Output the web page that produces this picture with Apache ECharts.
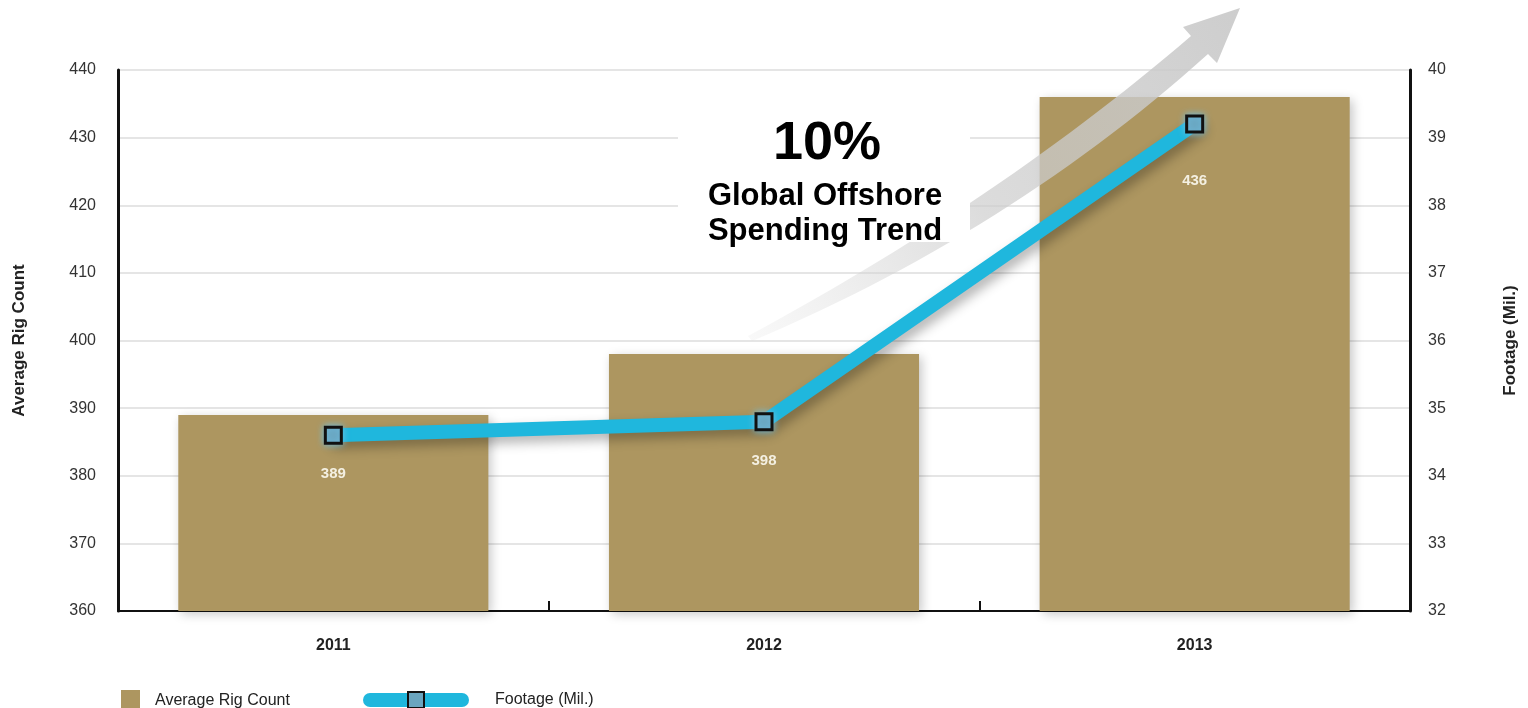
<!DOCTYPE html>
<html>
<head>
<meta charset="utf-8">
<script src="https://cdn.jsdelivr.net/npm/echarts@6/dist/echarts.min.js"></script>
<style>html,body{margin:0;padding:0;background:#fff}#c{width:1528px;height:708px}</style>
</head>
<body>
<div id="c"></div>
<script>
const categories = ['2011', '2012', '2013'];
const rigCount = [389, 398, 436];
const footage = [34.6, 34.8, 39.2];
const leftTicks = [360, 440, 10];
const rightTicks = [32, 40, 1];

const FONT = '"Liberation Sans", Arial, Helvetica, sans-serif';
const chart = echarts.init(document.getElementById('c'));

// decorative trend arrow outline (quadratic curves sampled into a polygon)
function quad(p0, c, p1, n) {
  const pts = [];
  for (let i = 0; i <= n; i++) {
    const t = i / n, u = 1 - t;
    pts.push([u * u * p0[0] + 2 * u * t * c[0] + t * t * p1[0], u * u * p0[1] + 2 * u * t * c[1] + t * t * p1[1]]);
  }
  return pts;
}
const upper = quad([748, 336], [1000, 200], [1191, 36], 30);
const lower = quad([1208, 54], [1010, 232], [752, 341], 30);
const arrowPts = upper.concat([[1183, 27], [1240, 8], [1217, 63]]).concat(lower);

chart.setOption({
  backgroundColor: '#ffffff',
  animation: false,
  textStyle: { fontFamily: FONT },
  grid: { left: 118, right: 118, top: 70, bottom: 97 },
  legend: [
    {
      data: ['Average Rig Count'],
      left: 116, top: 685,
      itemWidth: 19, itemHeight: 21,
      icon: 'rect',
      textStyle: { fontSize: 16, color: '#222', fontFamily: FONT, padding: [0, 0, 0, 10] }
    },
    {
      data: ['Footage (Mil.)'],
      left: 358, top: 686,
      itemWidth: 92, itemHeight: 20,
      lineStyle: { width: 14, cap: 'round' },
      textStyle: { fontSize: 16, color: '#222', fontFamily: FONT, padding: [0, 0, 0, 28] }
    }
  ],
  xAxis: {
    type: 'category',
    data: categories,
    axisLine: { lineStyle: { color: '#111', width: 2 } },
    axisTick: { show: true, inside: true, length: 10, lineStyle: { color: '#111', width: 2 } },
    axisLabel: { fontSize: 16, fontWeight: 'bold', color: '#222', margin: 27, fontFamily: FONT },
    splitLine: { show: false }
  },
  yAxis: [
    {
      type: 'value',
      min: leftTicks[0], max: leftTicks[1], interval: leftTicks[2],
      name: 'Average Rig Count',
      nameLocation: 'middle', nameRotate: 90, nameGap: 90,
      nameTextStyle: { fontSize: 17, fontWeight: 'bold', color: '#222', fontFamily: FONT },
      axisLine: { show: true, lineStyle: { color: '#111', width: 3 } },
      axisTick: { show: false },
      axisLabel: { fontSize: 16, color: '#333', margin: 22, fontFamily: FONT },
      splitLine: { show: true, lineStyle: { color: '#dcdcdc', width: 1.5 } }
    },
    {
      type: 'value',
      min: rightTicks[0], max: rightTicks[1], interval: rightTicks[2],
      name: 'Footage (Mil.)',
      nameLocation: 'middle', nameRotate: 90, nameGap: 92,
      nameTextStyle: { fontSize: 17, fontWeight: 'bold', color: '#222', fontFamily: FONT },
      axisLine: { show: true, lineStyle: { color: '#111', width: 3 } },
      axisTick: { show: false },
      axisLabel: { fontSize: 16, color: '#333', margin: 18, fontFamily: FONT },
      splitLine: { show: false }
    }
  ],
  series: [
    {
      name: 'Average Rig Count',
      type: 'bar',
      yAxisIndex: 0,
      data: rigCount,
      barWidth: '72%',
      itemStyle: {
        color: '#ad9660',
        shadowColor: 'rgba(0,0,0,0.22)', shadowBlur: 10, shadowOffsetX: 3, shadowOffsetY: 3
      },
      z: 1
    },
    {
      name: 'Footage (Mil.)',
      type: 'line',
      yAxisIndex: 1,
      data: footage.map(function (v, i) {
        return i === footage.length - 1 ? { value: v, label: { distance: 40 } } : v;
      }),
      symbol: 'rect',
      symbolSize: 16,
      lineStyle: { color: '#1fb7dd', width: 14, cap: 'round', join: 'round',
        shadowColor: 'rgba(0,0,0,0.3)', shadowBlur: 12, shadowOffsetX: 4, shadowOffsetY: 6 },
      itemStyle: { color: '#6aa5bf', borderColor: '#111', borderWidth: 3,
        shadowColor: 'rgba(110,190,225,1)', shadowBlur: 7 },
      label: {
        show: true, position: 'bottom', distance: 22,
        color: '#f4f0e2', fontSize: 15, fontWeight: 'bold', fontFamily: FONT,
        formatter: function (p) { return String(rigCount[p.dataIndex]); }
      },
      z: 5
    }
  ],
  graphic: [
    {
      type: 'polygon',
      z: 3,
      shape: { points: arrowPts },
      style: {
        fill: {
          type: 'linear', x: 0, y: 1, x2: 1, y2: 0,
          colorStops: [
            { offset: 0, color: 'rgba(215,215,215,0.15)' },
            { offset: 0.45, color: 'rgba(205,205,205,0.7)' },
            { offset: 1, color: 'rgba(200,200,200,0.9)' }
          ]
        }
      }
    },
    {
      type: 'rect', z: 4,
      shape: { x: 678, y: 118, width: 292, height: 124 },
      style: { fill: '#ffffff' }
    },
    {
      type: 'text', z: 6,
      style: { text: '10%', x: 827, y: 144, fill: '#000', font: 'bold 54px ' + FONT, textAlign: 'center', textVerticalAlign: 'middle' }
    },
    {
      type: 'text', z: 6,
      style: { text: 'Global Offshore', x: 825, y: 196, fill: '#000', font: 'bold 31px ' + FONT, textAlign: 'center', textVerticalAlign: 'middle' }
    },
    {
      type: 'text', z: 6,
      style: { text: 'Spending Trend', x: 825, y: 231, fill: '#000', font: 'bold 31px ' + FONT, textAlign: 'center', textVerticalAlign: 'middle' }
    }
  ]
});
</script>
</body>
</html>
